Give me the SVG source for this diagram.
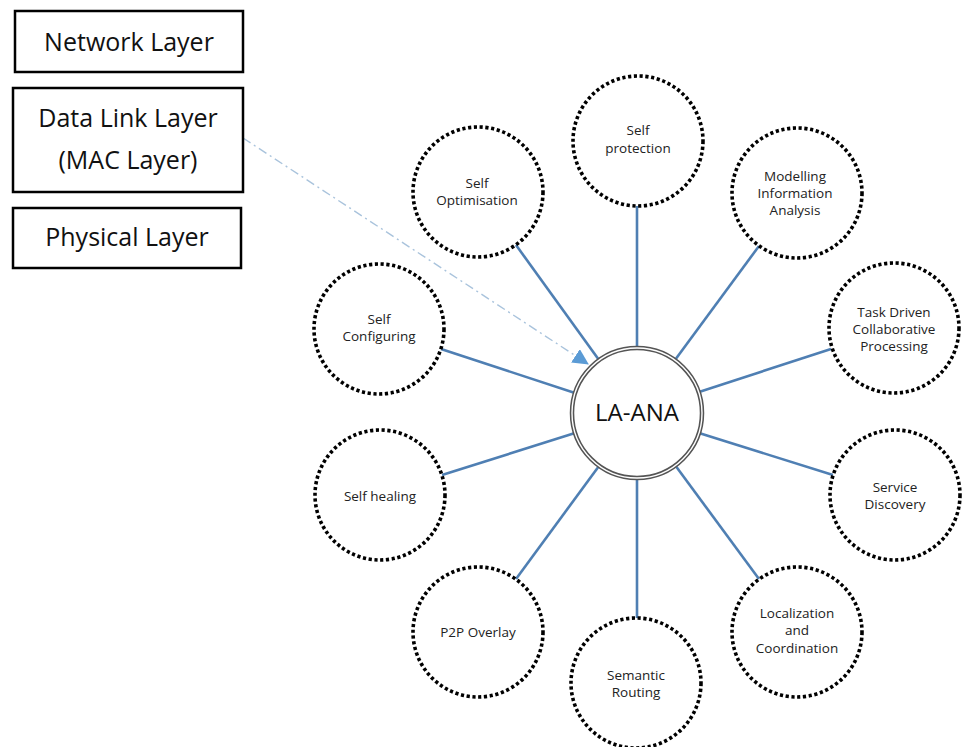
<svg xmlns="http://www.w3.org/2000/svg" width="963" height="747" viewBox="0 0 963 747">
<style>
.box{fill:#fff;stroke:#000;stroke-width:2.5}
.bt{font-family:"Open Sans","Noto Sans",sans-serif;font-size:25px;fill:#111;text-anchor:middle}
.sat{fill:#fff;stroke:#000;stroke-width:3.6;stroke-dasharray:3.2 2.6}
.st{font-family:"Open Sans","Noto Sans",sans-serif;font-size:13.5px;fill:#222;text-anchor:middle}
.con{stroke:#4f7fb3;stroke-width:2.6;fill:none}
</style>
<defs>
<marker id="ah" markerWidth="16" markerHeight="16" refX="15" refY="8" orient="auto" markerUnits="userSpaceOnUse">
<path d="M0,0 L16,8 L0,16 Z" fill="#5b9bd5"/>
</marker>
</defs>
<rect width="963" height="747" fill="#fff"/>
<g id="connectors">
<line class="con" x1="637" y1="348" x2="637" y2="206"/>
<line class="con" x1="599" y1="360" x2="516" y2="245"/>
<line class="con" x1="675" y1="360" x2="759" y2="246"/>
<line class="con" x1="699" y1="392" x2="831" y2="349"/>
<line class="con" x1="699" y1="433" x2="833" y2="475"/>
<line class="con" x1="675" y1="465" x2="759" y2="579"/>
<line class="con" x1="637" y1="478" x2="637" y2="618"/>
<line class="con" x1="599" y1="466" x2="516" y2="579"/>
<line class="con" x1="575" y1="433" x2="442" y2="475"/>
<line class="con" x1="575" y1="393" x2="441" y2="349"/>
<path d="M243,138 L588,364" stroke="#a9c3dc" stroke-width="1.4" stroke-dasharray="9 4 2 4" fill="none" marker-end="url(#ah)"/>
</g>
<g id="network-layer">
<rect class="box" x="15" y="11" width="228" height="61"/>
<text class="bt" x="129" y="51">Network Layer</text>
</g>
<g id="data-link-layer">
<rect class="box" x="13" y="88" width="230" height="104"/>
<text class="bt" x="128" y="127">Data Link Layer</text>
<text class="bt" x="128" y="169">(MAC Layer)</text>
</g>
<g id="physical-layer">
<rect class="box" x="13" y="208" width="228" height="60"/>
<text class="bt" x="127" y="246">Physical Layer</text>
</g>
<g id="la-ana">
<circle cx="637" cy="413" r="65" fill="#fff" stroke="#555" stroke-width="4.5"/>
<circle cx="637" cy="413" r="65" fill="none" stroke="#fff" stroke-width="1.4"/>
<text x="637" y="421" font-family="'Open Sans','Noto Sans',sans-serif" font-size="24" fill="#111" text-anchor="middle">LA-ANA</text>
</g>
<g id="self-protection">
<circle class="sat" cx="638" cy="141" r="65"/>
<text class="st" x="638" y="135">Self</text>
<text class="st" x="638" y="153">protection</text>
</g>
<g id="self-optimisation">
<circle class="sat" cx="478" cy="192" r="65"/>
<text class="st" x="477" y="188">Self</text>
<text class="st" x="477" y="205">Optimisation</text>
</g>
<g id="modelling">
<circle class="sat" cx="797" cy="193" r="65"/>
<text class="st" x="795" y="181">Modelling</text>
<text class="st" x="795" y="198">Information</text>
<text class="st" x="795" y="215">Analysis</text>
</g>
<g id="task-driven">
<circle class="sat" cx="894" cy="328" r="65"/>
<text class="st" x="894" y="317">Task Driven</text>
<text class="st" x="894" y="334">Collaborative</text>
<text class="st" x="894" y="351">Processing</text>
</g>
<g id="service-discovery">
<circle class="sat" cx="895" cy="495" r="65"/>
<text class="st" x="895" y="492">Service</text>
<text class="st" x="895" y="509">Discovery</text>
</g>
<g id="localization">
<circle class="sat" cx="797" cy="632" r="65"/>
<text class="st" x="797" y="618">Localization</text>
<text class="st" x="797" y="635">and</text>
<text class="st" x="797" y="653">Coordination</text>
</g>
<g id="semantic-routing">
<circle class="sat" cx="636" cy="683" r="65"/>
<text class="st" x="636" y="680">Semantic</text>
<text class="st" x="636" y="697">Routing</text>
</g>
<g id="p2p-overlay">
<circle class="sat" cx="478" cy="632" r="65"/>
<text class="st" x="478" y="637">P2P Overlay</text>
</g>
<g id="self-healing">
<circle class="sat" cx="380" cy="495" r="65"/>
<text class="st" x="380" y="501">Self healing</text>
</g>
<g id="self-configuring">
<circle class="sat" cx="379" cy="329" r="65"/>
<text class="st" x="379" y="324">Self</text>
<text class="st" x="379" y="341">Configuring</text>
</g>
</svg>
